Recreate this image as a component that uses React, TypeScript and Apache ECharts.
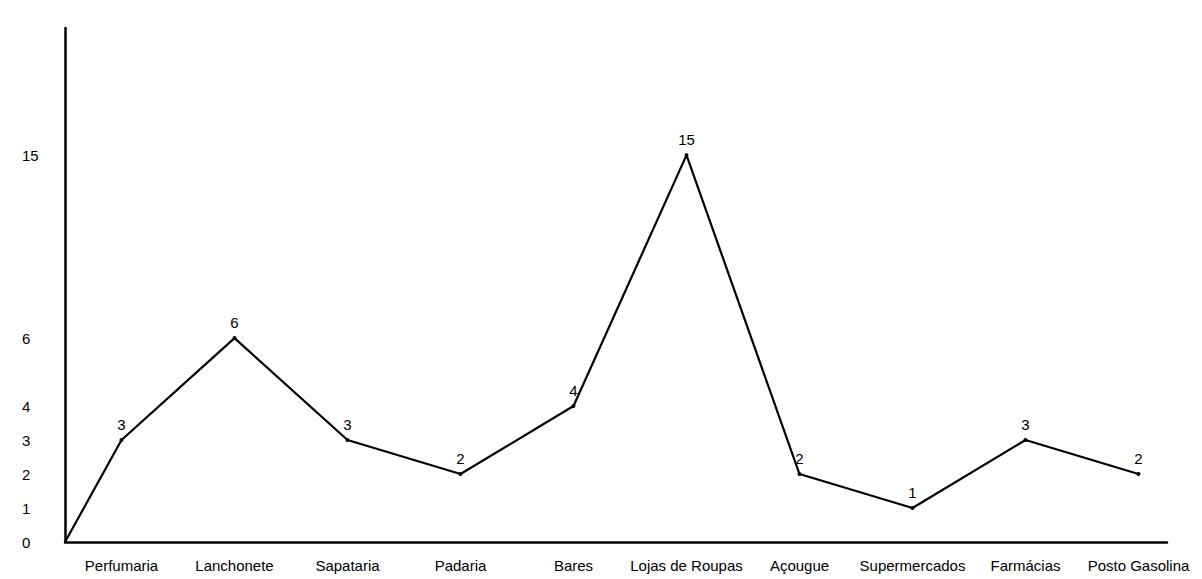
import React, { useEffect, useRef } from "react";
import * as echarts from "echarts";

const categories = [
  "Perfumaria",
  "Lanchonete",
  "Sapataria",
  "Padaria",
  "Bares",
  "Lojas de Roupas",
  "Açougue",
  "Supermercados",
  "Farmácias",
  "Posto Gasolina",
];
const values = [3, 6, 3, 2, 4, 15, 2, 1, 3, 2];
const yTickLabels = [0, 1, 2, 3, 4, 6, 15];
const startValue = 0;

export default function App() {
  const ref = useRef<HTMLDivElement>(null);
  useEffect(() => {
    const chart = echarts.init(ref.current!, null, { renderer: "svg" });
    const font = "'Liberation Sans', Arial, sans-serif";
    // index axis spans the category bands: band i is centred on i
    const xMin = -0.5;
    const xMax = categories.length - 0.5;
    // the line starts at the axes' origin
    const lineData: any[] = [
      { value: [xMin, startValue], symbol: "none", label: { show: false } },
      ...values.map((v, i) => ({ value: [i, v] })),
    ];
    chart.setOption({
      animation: false,
      backgroundColor: "#ffffff",
      grid: [
        { left: 65, top: 28, width: 1130, bottom: 37 },
        { left: 65, top: 28, right: 35, bottom: 37 },
      ],
      xAxis: [
        {
          type: "category",
          gridIndex: 0,
          position: "bottom",
          data: categories,
          boundaryGap: true,
          axisLine: { show: false },
          axisTick: { show: false },
          splitLine: { show: false },
          axisLabel: {
            color: "#000",
            fontSize: 15,
            fontFamily: font,
            margin: 16,
            interval: 0,
          },
        },
        {
          type: "value",
          gridIndex: 0,
          position: "bottom",
          min: xMin,
          max: xMax,
          show: false,
        },
        {
          type: "value",
          gridIndex: 1,
          min: 0,
          max: 1,
          axisLine: { show: true, onZero: false, lineStyle: { color: "#000", width: 2.5 } },
          axisTick: { show: false },
          axisLabel: { show: false },
          splitLine: { show: false },
        },
      ],
      yAxis: [
        {
          type: "value",
          gridIndex: 0,
          min: 0,
          max: 18.74,
          breaks: [{ start: 7.5, end: 11.5, gap: 0.382 }],
          breakArea: {
            show: false,
            itemStyle: { color: "transparent", borderColor: "transparent", borderWidth: 0, opacity: 0 },
            expandOnClick: false,
          },
          axisLine: { show: false },
          axisTick: { show: false },
          splitLine: { show: false },
          axisLabel: {
            customValues: yTickLabels,
            align: "left",
            margin: 43,
            color: "#000",
            fontSize: 15,
            fontFamily: font,
          },
        },
        {
          type: "value",
          gridIndex: 1,
          min: 0,
          max: 1,
          axisLine: { show: true, onZero: false, lineStyle: { color: "#000", width: 2.5 } },
          axisTick: { show: false },
          axisLabel: { show: false },
          splitLine: { show: false },
        },
      ],
      series: [
        {
          type: "line",
          xAxisIndex: 1,
          yAxisIndex: 0,
          data: lineData,
          lineStyle: { color: "#000", width: 2.2 },
          itemStyle: { color: "#000" },
          symbol: "circle",
          symbolSize: 4,
          label: {
            show: true,
            position: "top",
            distance: 6,
            color: "#000",
            fontSize: 15,
            fontFamily: font,
            formatter: (p: any) => String(p.value[1]),
          },
        },
      ],
    });
    return () => chart.dispose();
  }, []);
  return (
    <div
      ref={ref}
      style={{ position: "fixed", left: 0, top: 0, width: 1202, height: 579 }}
    />
  );
}
